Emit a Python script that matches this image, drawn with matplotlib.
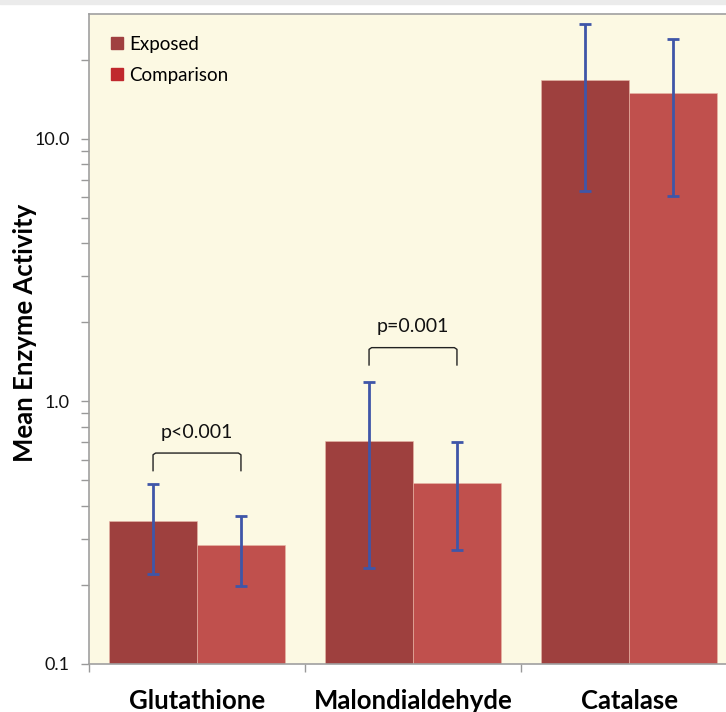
import numpy as np
import matplotlib.pyplot as plt
from matplotlib.patches import Patch, Rectangle
from matplotlib.ticker import LogLocator, FixedLocator, NullFormatter

plt.rcParams['font.family'] = ['Lato', 'DejaVu Sans']

# data
categories = ["Glutathione", "Malondialdehyde", "Catalase"]
exposed = [0.352, 0.707, 16.8]
exposed_lo = [0.220, 0.233, 6.35]
exposed_hi = [0.485, 1.19, 27.3]
comparison = [0.283, 0.488, 15.0]
comparison_lo = [0.198, 0.272, 6.05]
comparison_hi = [0.367, 0.703, 24.0]

# significance brackets (category index, label, bracket top, leg bottom, text y)
sig_cat = [0, 1]
sig_text = ["p<0.001", "p=0.001"]
sig_top = [0.636, 1.603]
sig_bottom = [0.545, 1.377]
sig_text_y = [0.759, 1.93]

c_exp = "#9e403e"
c_cmp = "#c0504d"
c_err = "#3f56a8"

fig = plt.figure(figsize=(7.26, 7.12), dpi=100)
fig.patches.append(Rectangle((0, 1 - 4 / 712), 1, 4 / 712, transform=fig.transFigure,
                             color="#ebebeb", zorder=0))
ax = fig.add_axes([89 / 726, 48 / 712, 648 / 726, 650 / 712])
ax.set_facecolor("#fcf9e3")

x = np.arange(len(categories))
w = 0.407
off = w / 2

ax.bar(x - off, exposed, width=w, color=c_exp, edgecolor="#e8b8a8", linewidth=0.4, zorder=2)
ax.bar(x + off, comparison, width=w, color=c_cmp, edgecolor="#e8b8a8", linewidth=0.4, zorder=2)

e = np.array(exposed)
c = np.array(comparison)
ax.errorbar(x - off, e, yerr=[e - np.array(exposed_lo), np.array(exposed_hi) - e],
            fmt="none", ecolor=c_err, elinewidth=2, capsize=4.5, capthick=2, zorder=3)
ax.errorbar(x + off, c, yerr=[c - np.array(comparison_lo), np.array(comparison_hi) - c],
            fmt="none", ecolor=c_err, elinewidth=2, capsize=4.5, capthick=2, zorder=3)

for i, lab, top, bot, ty in zip(sig_cat, sig_text, sig_top, sig_bottom, sig_text_y):
    x1, x2 = i - off, i + off
    ax.plot([x1, x1, x1 + 0.012, x2 - 0.012, x2, x2],
            [bot, top * 0.985, top, top, top * 0.985, bot],
            color="#222222", lw=1.0, zorder=4)
    ax.text(i, ty, lab, ha="center", va="center", fontsize=14, color="#111111")

ax.set_yscale("log")
ax.set_ylim(0.1, 29.9)
ax.set_xlim(-0.5, 2.5)
ax.yaxis.set_major_locator(LogLocator(base=10, numticks=10))
ax.yaxis.set_minor_locator(LogLocator(base=10, subs=np.arange(2, 10), numticks=10))
ax.yaxis.set_minor_formatter(NullFormatter())
ax.set_yticks([0.1, 1.0, 10.0])
ax.set_yticklabels(["0.1", "1.0", "10.0"])
ax.tick_params(axis="y", which="both", direction="out", length=6, width=1,
               color="#999999", labelsize=13, labelcolor="#111111", pad=8)

ax.xaxis.set_major_locator(FixedLocator([-0.5, 0.5, 1.5, 2.5]))
ax.xaxis.set_major_formatter(NullFormatter())
ax.xaxis.set_minor_locator(FixedLocator(x))
ax.set_xticklabels(categories, minor=True)
ax.tick_params(axis="x", which="major", direction="out", length=6, width=1, color="#999999")
ax.tick_params(axis="x", which="minor", length=0, pad=18, labelsize=18.5)
for t in ax.get_xticklabels(minor=True):
    t.set_fontweight("bold")

for s in ["left", "bottom", "top"]:
    ax.spines[s].set_color("#a0a0a0")
    ax.spines[s].set_linewidth(1.2)
ax.spines["right"].set_visible(False)

ax.set_ylabel("Mean Enzyme Activity", fontsize=18.5, fontweight="bold")
ax.yaxis.set_label_coords(-0.080, 0.509)

handles = [Patch(color="#a04040", label="Exposed"),
           Patch(color="#c0282d", label="Comparison")]
ax.legend(handles=handles, loc="upper left", frameon=False, fontsize=13.5,
          handlelength=0.65, handleheight=0.65, handletextpad=0.35, labelspacing=0.75,
          borderaxespad=0.75)

fig.savefig("out.png", dpi=100)
